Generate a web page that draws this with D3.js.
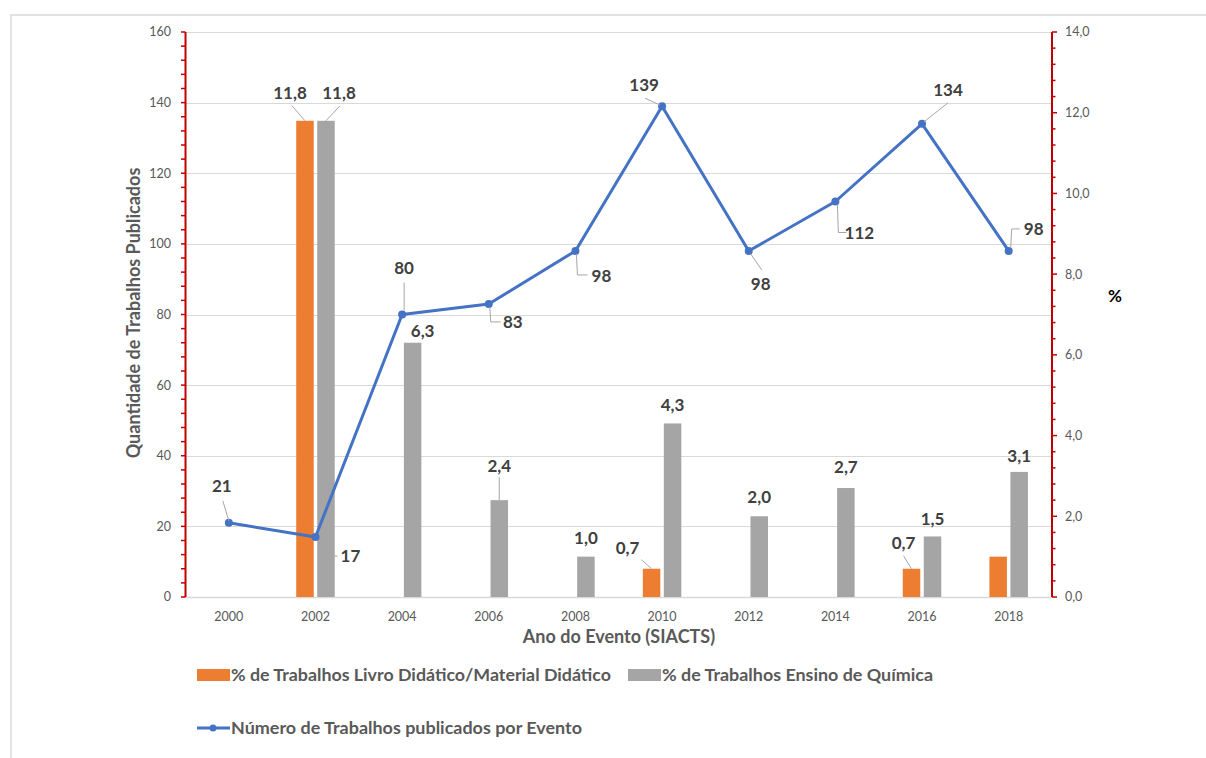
<!DOCTYPE html>
<html><head><meta charset="utf-8">
<script src="https://cdn.jsdelivr.net/npm/d3@7"></script>
<style>
html,body{margin:0;padding:0;background:#fff;}
svg text{font-family:Lato,"Open Sans",sans-serif;}
</style></head>
<body>
<svg id="c" width="1206" height="758"></svg>
<script>
// ---- data ----
const years = ["2000","2002","2004","2006","2008","2010","2012","2014","2016","2018"];
const trabalhos = [21,17,80,83,98,139,98,112,134,98];
const pctLivro = [null,11.8,null,null,null,0.7,null,null,0.7,1.0];
const pctLivroLabels = [null,"11,8",null,null,null,"0,7",null,null,"0,7",null];
const pctQuimica = [null,11.8,6.3,2.4,1.0,4.3,2.0,2.7,1.5,3.1];
const pctQuimicaLabels = [null,"11,8","6,3","2,4","1,0","4,3","2,0","2,7","1,5","3,1"];
const leftTicks = [0,20,40,60,80,100,120,140,160];
const rightTicks = [0,2,4,6,8,10,12,14];
const seriesNames = ["% de Trabalhos Livro Didático/Material Didático","% de Trabalhos Ensino de Química","Número de Trabalhos publicados por Evento"];

// label placement (offsets from anchor, and leader polyline relative to anchor)
const lineLabelPos = [
  {dx:-7,dy:-37,lead:[[-6,-22],[0,-2]]},
  {dx:35,dy:19,lead:[[19,19],[22,19]]},
  {dx:2,dy:-46,lead:[[2,-32],[2,-4]]},
  {dx:24,dy:18,lead:[[1,3],[2,18],[12,18]]},
  {dx:26,dy:25,lead:[[1,3],[2,24],[12,24]]},
  {dx:-18,dy:-21,lead:[[-17,-8],[-2,-1]]},
  {dx:12,dy:33,lead:[[2,3],[13,19]]},
  {dx:24,dy:32,lead:[[2,3],[3,31],[11,31]]},
  {dx:26,dy:-34,lead:[[2,-2],[26,-21]]},
  {dx:25,dy:-22,lead:[[2,-3],[3,-22],[11,-22]]}
];
const livroLabelPos = [null,{dx:-15,dy:-28,lead:[[-13,-15],[0,0]]},null,null,null,{dx:-24,dy:-21,lead:[[-10,-9],[0,0]]},null,null,{dx:-8,dy:-26,lead:[[-8,-13],[0,0]]},null];
const quimLabelPos = [null,{dx:13,dy:-28,lead:[[14,-15],[0,0]]},{dx:10,dy:-12,lead:null},{dx:0,dy:-34,lead:[[0,-23],[0,0]]},{dx:0,dy:-19,lead:null},{dx:0,dy:-18,lead:null},{dx:0,dy:-19,lead:null},{dx:0,dy:-21,lead:null},{dx:0,dy:-17,lead:null},{dx:0,dy:-16,lead:null}];

// ---- layout ----
const svg = d3.select("#c");
const L = 185.5, R = 1052, T = 32, B = 597;
const x = d3.scaleBand().domain(years).range([L,R]).padding(0);
const yL = d3.scaleLinear().domain([0,160]).range([B,T]);
const yR = d3.scaleLinear().domain([0,14]).range([B,T]);
const red = "#C00000", grid = "#d9d9d9", txt = "#595959", lab = "#404040";
const cOr = "#ED7D31", cGr = "#A5A5A5", cBl = "#4472C4";
const bw = 17.5, off = 10.5;

// frame
svg.append("rect").attr("x",11).attr("y",15).attr("width",1400).attr("height",1000)
  .attr("fill","none").attr("stroke","#d9d9d9").attr("stroke-width",1.5);

// gridlines
svg.append("g").selectAll("line").data(leftTicks).join("line")
  .attr("x1",L).attr("x2",R).attr("y1",d=>Math.round(yL(d))+0.5).attr("y2",d=>Math.round(yL(d))+0.5)
  .attr("stroke",grid).attr("stroke-width",d=>d===0?1.5:1);

// bars
const gb = svg.append("g");
gb.selectAll("rect.o").data(years.map((y,i)=>({y,v:pctLivro[i]})).filter(d=>d.v!=null)).join("rect")
  .attr("x",d=>x(d.y)+x.bandwidth()/2-off-bw/2).attr("width",bw)
  .attr("y",d=>yR(d.v)).attr("height",d=>B-yR(d.v)).attr("fill",cOr);
gb.selectAll("rect.g").data(years.map((y,i)=>({y,v:pctQuimica[i]})).filter(d=>d.v!=null)).join("rect")
  .attr("x",d=>x(d.y)+x.bandwidth()/2+off-bw/2).attr("width",bw)
  .attr("y",d=>yR(d.v)).attr("height",d=>B-yR(d.v)).attr("fill",cGr);

// left axis
const axL = svg.append("g");
axL.append("line").attr("x1",L).attr("x2",L).attr("y1",T).attr("y2",B).attr("stroke",red).attr("stroke-width",2);
axL.selectAll("line.mn").data(d3.range(0,161,4)).join("line")
  .attr("x1",L-4.5).attr("x2",L).attr("y1",d=>yL(d)).attr("y2",d=>yL(d)).attr("stroke",red).attr("stroke-width",1.5);
axL.selectAll("text").data(leftTicks).join("text")
  .attr("x",171).attr("y",d=>yL(d)).attr("dy","0.35em").attr("text-anchor","end")
  .attr("font-size",12.5).attr("fill",txt).text(d=>d);

// right axis
const axR = svg.append("g");
axR.append("line").attr("x1",R).attr("x2",R).attr("y1",T).attr("y2",B).attr("stroke",red).attr("stroke-width",2);
axR.selectAll("line.mn").data(d3.range(0,71,2)).join("line")
  .attr("x1",R).attr("x2",d=>d%10===0?R+5:R+3.5).attr("y1",d=>yR(d/5)).attr("y2",d=>yR(d/5)).attr("stroke",red).attr("stroke-width",1.5);
axR.selectAll("text").data(rightTicks).join("text")
  .attr("x",1065).attr("y",d=>yR(d)).attr("dy","0.35em").attr("text-anchor","start")
  .attr("font-size",12.5).attr("fill",txt).text(d=>d3.format(".1f")(d).replace(".",","));

// x tick labels
svg.append("g").selectAll("text").data(years).join("text")
  .attr("x",d=>x(d)+x.bandwidth()/2).attr("y",617).attr("dy","0.35em").attr("text-anchor","middle")
  .attr("font-size",12.5).attr("fill",txt).text(d=>d);

// axis titles
svg.append("text").attr("transform","translate(134,313) rotate(-90)").attr("text-anchor","middle")
  .attr("dy","0.35em").attr("font-size",18).attr("font-weight","bold").attr("fill",txt)
  .text("Quantidade de Trabalhos Publicados");
svg.append("text").attr("x",619).attr("y",637).attr("dy","0.35em").attr("text-anchor","middle")
  .attr("font-size",18).attr("font-weight","bold").attr("fill",txt).text("Ano do Evento (SIACTS)");
svg.append("text").attr("x",1115).attr("y",296).attr("dy","0.35em").attr("text-anchor","middle")
  .attr("font-size",17).attr("font-weight","bold").attr("fill","#000").text("%");

// line
const pts = years.map((y,i)=>[x(y)+x.bandwidth()/2, yL(trabalhos[i])]);
svg.append("path").attr("d",d3.line()(pts)).attr("fill","none").attr("stroke",cBl)
  .attr("stroke-width",3).attr("stroke-linejoin","round").attr("stroke-linecap","round");
svg.append("g").selectAll("circle").data(pts).join("circle")
  .attr("cx",d=>d[0]).attr("cy",d=>d[1]).attr("r",4).attr("fill",cBl);

// labels
const labG = svg.append("g");
function addLabel(ax, ay, text, p){
  if(p.lead){
    labG.append("polyline").attr("points",p.lead.map(q=>[ax+q[0],ay+q[1]].join(",")).join(" "))
      .attr("fill","none").attr("stroke","#a6a6a6").attr("stroke-width",1);
  }
  labG.append("text").attr("x",ax+p.dx).attr("y",ay+p.dy).attr("dy","0.35em").attr("text-anchor","middle")
    .attr("font-size",17).attr("font-weight","bold").attr("fill",lab).text(text);
}
pts.forEach((p,i)=>addLabel(p[0],p[1],String(trabalhos[i]),lineLabelPos[i]));
years.forEach((y,i)=>{
  if(pctLivroLabels[i]!=null) addLabel(x(y)+x.bandwidth()/2-off, yR(pctLivro[i]), pctLivroLabels[i], livroLabelPos[i]);
  if(pctQuimicaLabels[i]!=null) addLabel(x(y)+x.bandwidth()/2+off, yR(pctQuimica[i]), pctQuimicaLabels[i], quimLabelPos[i]);
});

// legend
const lg = svg.append("g").attr("font-size",17.5).attr("font-weight","bold").attr("fill",txt);
lg.append("rect").attr("x",197).attr("y",669).attr("width",33).attr("height",12).attr("fill",cOr);
lg.append("text").attr("x",231).attr("y",675).attr("dy","0.35em").attr("textLength",380).attr("lengthAdjust","spacingAndGlyphs").text(seriesNames[0]);
lg.append("rect").attr("x",628).attr("y",669).attr("width",33).attr("height",12).attr("fill",cGr);
lg.append("text").attr("x",662).attr("y",675).attr("dy","0.35em").attr("textLength",271).attr("lengthAdjust","spacingAndGlyphs").text(seriesNames[1]);
lg.append("line").attr("x1",197).attr("x2",230).attr("y1",728).attr("y2",728).attr("stroke",cBl).attr("stroke-width",3);
lg.append("circle").attr("cx",213).attr("cy",728).attr("r",3.5).attr("fill",cBl);
lg.append("text").attr("x",231).attr("y",728).attr("dy","0.35em").attr("textLength",351).attr("lengthAdjust","spacingAndGlyphs").text(seriesNames[2]);
</script>
</body></html>
